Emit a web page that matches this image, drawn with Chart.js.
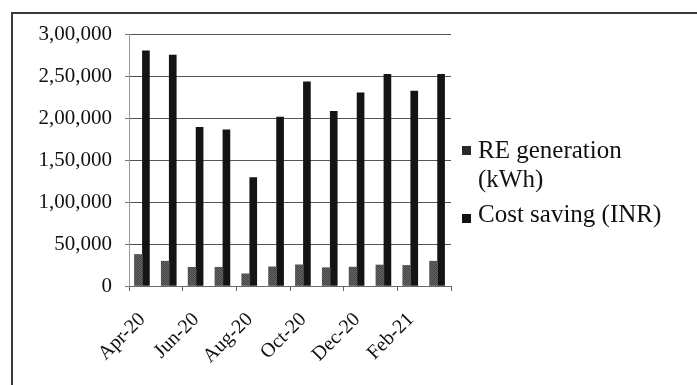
<!DOCTYPE html>
<html>
<head>
<meta charset="utf-8">
<script src="https://cdn.jsdelivr.net/npm/chart.js@4/dist/chart.umd.min.js"></script>
<style>
  html, body { margin: 0; padding: 0; background: #fff; }
  #wrap { position: relative; width: 697px; height: 385px; overflow: hidden; background: #fff; }
  #chart { position: absolute; left: 0; top: 0; }
  #frame { position: absolute; left: 11px; top: 12px; width: 700px; height: 400px;
           border-top: 2px solid #3a3a3a; border-left: 2px solid #3a3a3a; }
  .legend { position: absolute; font-family: "Liberation Serif", "Times New Roman", serif;
            font-size: 25px; line-height: 29px; color: #111; white-space: nowrap; }
  .swatch { position: absolute; width: 9px; height: 9px; }
</style>
</head>
<body>
<div id="wrap">
  <canvas id="chart" width="697" height="385"></canvas>
  <div id="frame"></div>
  <div class="swatch" style="left:462px; top:146px; background:#2a2a2a;"></div>
  <div class="legend" style="left:478px; top:135px;">RE generation<br>(kWh)</div>
  <div class="swatch" style="left:462px; top:214px; background:#111;"></div>
  <div class="legend" style="left:478px; top:199px;">Cost saving (INR)</div>
</div>
<script>
// Monthly renewable-energy generation and the resulting cost saving, FY 2020-21
const months = ['Apr-20', 'May-20', 'Jun-20', 'Jul-20', 'Aug-20', 'Sep-20',
                'Oct-20', 'Nov-20', 'Dec-20', 'Jan-21', 'Feb-21', 'Mar-21'];
const reGeneration = [37500, 29500, 22300, 22300, 14500, 22800,
                      25200, 21800, 22500, 25000, 24500, 29500];
const costSaving = [280000, 275000, 189000, 186000, 129000, 201000,
                    243000, 208000, 230000, 252000, 232000, 252000];
const yTickLabels = ['0', '50,000', '1,00,000', '1,50,000', '2,00,000', '2,50,000', '3,00,000'];

// Small mottled grey tile used as the fill of the generation bars
function mottledGrey() {
  const tile = document.createElement('canvas');
  tile.width = 4; tile.height = 4;
  const g = tile.getContext('2d');
  const shades = [
    ['#404040', '#666666', '#474747', '#5f5f5f'],
    ['#636363', '#4a4a4a', '#6a6a6a', '#434343'],
    ['#484848', '#5e5e5e', '#3e3e3e', '#676767'],
    ['#696969', '#424242', '#616161', '#4c4c4c']
  ];
  for (let r = 0; r < 4; r++) {
    for (let c = 0; c < 4; c++) {
      g.fillStyle = shades[r][c];
      g.fillRect(c, r, 1, 1);
    }
  }
  return g.createPattern(tile, 'repeat');
}

const ctx = document.getElementById('chart').getContext('2d');
const serif = '"Liberation Serif", "Times New Roman", serif';

new Chart(ctx, {
  type: 'bar',
  data: {
    labels: months,
    datasets: [
      { label: 'RE generation (kWh)', data: reGeneration,
        backgroundColor: mottledGrey(), borderWidth: 0, barThickness: 8 },
      { label: 'Cost saving (INR)', data: costSaving,
        backgroundColor: '#141414', borderWidth: 0, barThickness: 7 }
    ]
  },
  options: {
    responsive: false,
    animation: false,
    devicePixelRatio: 1,
    layout: { padding: { left: 0, right: 246, top: 34, bottom: 0 } },
    plugins: { legend: { display: false }, tooltip: { enabled: false } },
    scales: {
      x: {
        offset: true,
        grid: {
          offset: true,
          drawOnChartArea: false,
          tickLength: 5,
          tickColor: (c) => (c.index === undefined || c.index % 2 === 0) ? '#666' : 'rgba(0,0,0,0)'
        },
        border: { display: true, color: '#6a6a6a', width: 1 },
        ticks: {
          autoSkip: false,
          minRotation: 45,
          maxRotation: 45,
          padding: 17,
          color: '#111',
          font: { family: serif, size: 20 },
          callback: (v, i) => (i % 2 === 0 ? months[i] : '')
        },
        afterFit: (s) => { s.height = 99; }
      },
      y: {
        min: 0,
        max: 300000,
        grid: { color: '#555', lineWidth: 1, tickLength: 4, tickColor: '#777' },
        border: { display: true, color: '#9a9a9a', width: 1 },
        ticks: {
          stepSize: 50000,
          padding: 13,
          color: '#111',
          font: { family: serif, size: 21 },
          callback: (v) => yTickLabels[Math.round(v / 50000)]
        },
        afterFit: (s) => { s.width = 129; }
      }
    }
  }
});
</script>
</body>
</html>
